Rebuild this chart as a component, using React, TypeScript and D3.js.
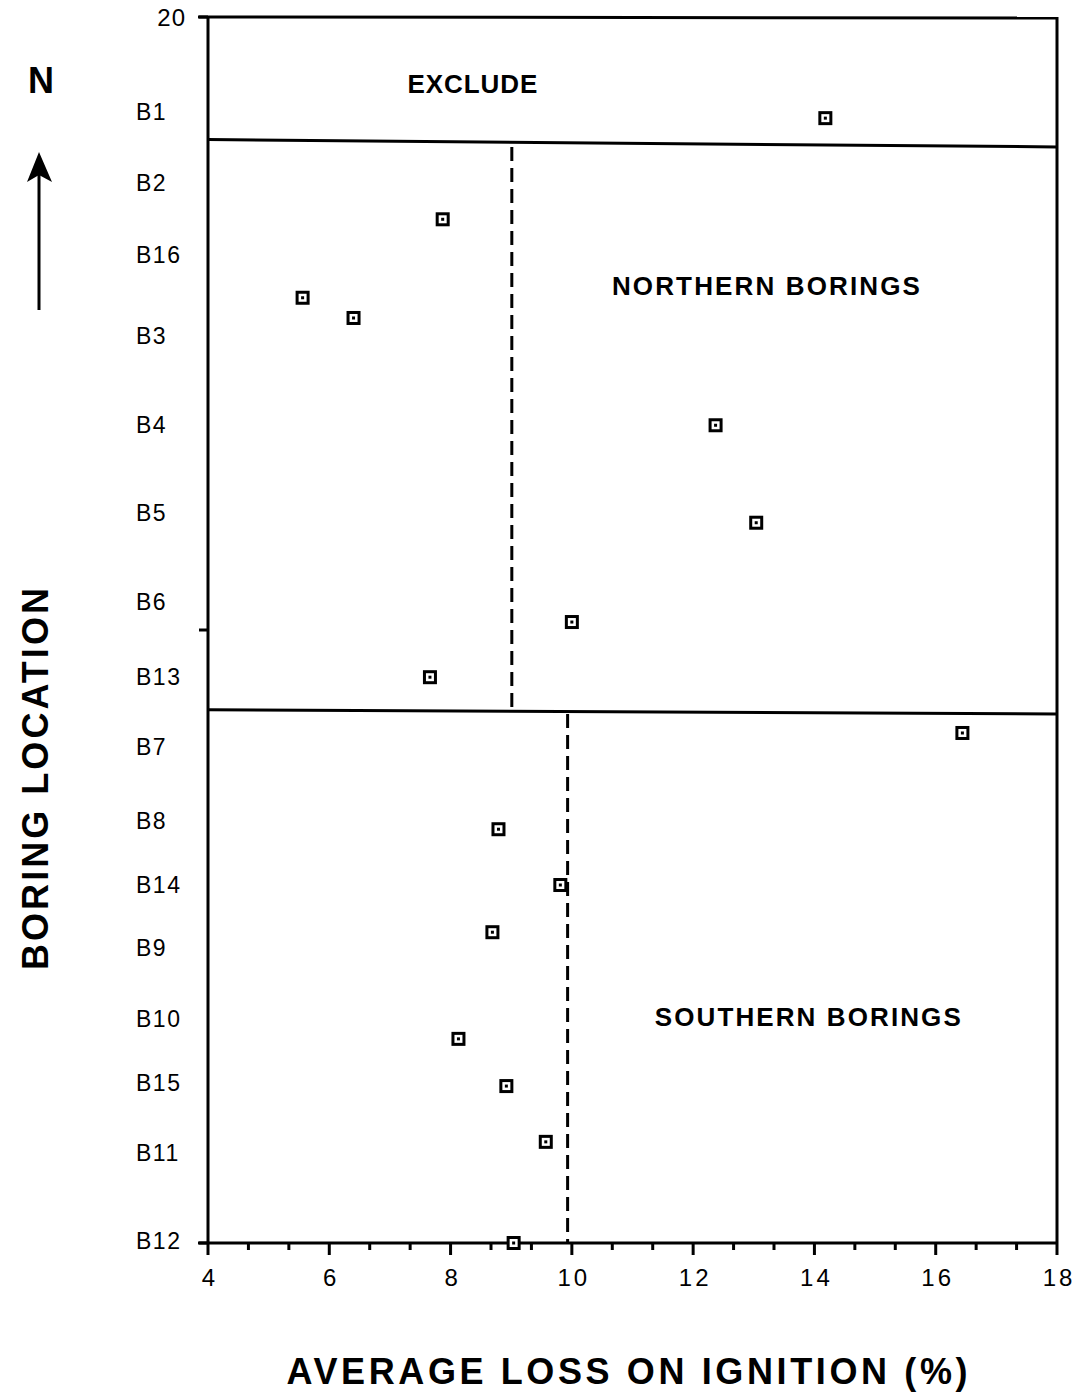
import React from "react";
import * as d3 from "d3";

const borings = ["B1","B2","B16","B3","B4","B5","B6","B13","B7","B8","B14","B9","B10","B15","B11","B12"];
const boringLabelPos = [18.45,17.29,16.12,14.80,13.34,11.91,10.46,9.23,8.09,6.88,5.84,4.81,3.65,2.61,1.47,0.03];

const pointLoss = [14.18,7.87,5.56,6.40,12.37,13.04,10.0,7.66,16.44,8.79,9.81,8.69,8.13,8.92,9.57,9.04];
const pointPos = [18.35,16.70,15.42,15.09,13.34,11.75,10.13,9.23,8.32,6.75,5.84,5.07,3.33,2.56,1.65,0.0];

const xTicks = [4,6,8,10,12,14,16,18];
const yTicks = [0,10,20];

// separator lines (left value, right value) in y units
const separators = [[18.0,17.88],[8.70,8.63]];
// group mean dashed lines: x value, y from, y to
const groupMeans = [
  { x: 9.01, y0: 17.88, y1: 8.70 },
  { x: 9.93, y0: 8.63, y1: 0 },
];
const regionLabels = [
  { text: "EXCLUDE", x: 8.36, y: 18.76, len: 130 },
  { text: "NORTHERN BORINGS", x: 13.2, y: 15.47, len: 308 },
  { text: "SOUTHERN BORINGS", x: 13.89, y: 3.54, len: 306 },
];

const W = 1078, H = 1393;
const L = 208, R = 1057, T = 17, B = 1243;
const FONT = "'Liberation Sans', Arial, Helvetica, sans-serif";

export default function App() {
  const x = d3.scaleLinear().domain([4, 18]).range([L, R]);
  const y = d3.scaleLinear().domain([0, 20]).range([B, T]);
  const minor = d3.range(4, 18.001, 2 / 3).filter(v => Math.abs(v - Math.round(v / 2) * 2) > 0.01);

  return (
    <svg width={W} height={H} style={{ position: "absolute", left: 0, top: 0, background: "#fff" }} fontFamily={FONT}>
      <rect width={W} height={H} fill="#fff" />
      {/* frame */}
      <line x1={L - 10} x2={R} y1={T} y2={T + 1} stroke="#000" strokeWidth={3} />
      <line x1={L} x2={L} y1={T} y2={B} stroke="#000" strokeWidth={3} />
      <line x1={R} x2={R} y1={T} y2={B} stroke="#000" strokeWidth={3} />
      <line x1={L - 10} x2={R} y1={B} y2={B} stroke="#000" strokeWidth={3} />
      {/* y ticks */}
      {yTicks.map(v => (
        <line key={"yt" + v} x1={L - 9} x2={L} y1={y(v)} y2={y(v)} stroke="#000" strokeWidth={3} />
      ))}
      <text x={186} y={y(20) + 9} fontSize={24} textAnchor="end" letterSpacing={1}>20</text>
      {/* x ticks */}
      {xTicks.map(v => (
        <g key={"xt" + v}>
          <line x1={x(v)} x2={x(v)} y1={B} y2={B + 12} stroke="#000" strokeWidth={3} />
          <text x={x(v) + 2} y={B + 43} fontSize={24} textAnchor="middle" letterSpacing={3}>{v}</text>
        </g>
      ))}
      {minor.map((v, i) => (
        <line key={"mt" + i} x1={x(v)} x2={x(v)} y1={B} y2={B + 7} stroke="#000" strokeWidth={3} />
      ))}
      {/* boring labels */}
      {borings.map((b, i) => (
        <text key={b} x={136} y={y(boringLabelPos[i]) + 8} fontSize={23} letterSpacing={1.5}>{b}</text>
      ))}
      {/* separators */}
      {separators.map((s, i) => (
        <line key={"sep" + i} x1={L} x2={R} y1={y(s[0])} y2={y(s[1])} stroke="#000" strokeWidth={3} />
      ))}
      {/* dashed mean lines */}
      {groupMeans.map((g, i) => (
        <line key={"gm" + i} x1={x(g.x)} x2={x(g.x)} y1={y(g.y0)} y2={y(g.y1)} stroke="#000" strokeWidth={3} strokeDasharray="14 7" />
      ))}
      {/* region labels */}
      {regionLabels.map(r => (
        <text key={r.text} x={x(r.x)} y={y(r.y)} fontSize={26} fontWeight="bold" textAnchor="middle" textLength={r.len} lengthAdjust="spacing">{r.text}</text>
      ))}
      {/* points */}
      {pointLoss.map((v, i) => (
        <g key={"p" + i}>
          <rect x={x(v) - 5.5} y={y(pointPos[i]) - 5.5} width={11} height={11} fill="#fff" stroke="#000" strokeWidth={3} />
          <rect x={x(v) - 1.5} y={y(pointPos[i]) - 1.5} width={3} height={3} fill="#000" />
        </g>
      ))}
      {/* north arrow */}
      <text x={41} y={93} fontSize={36} fontWeight="bold" textAnchor="middle">N</text>
      <line x1={39} x2={39} y1={310} y2={168} stroke="#000" strokeWidth={3} />
      <path d="M39,152 L52,182 L39,175 L27,182 Z" fill="#000" />
      {/* axis titles */}
      <text x={627} y={1384} fontSize={36} fontWeight="bold" textAnchor="middle" textLength={681} lengthAdjust="spacing">AVERAGE LOSS ON IGNITION (%)</text>
      <text transform="translate(48,779) rotate(-90)" fontSize={36} fontWeight="bold" textAnchor="middle" textLength={382} lengthAdjust="spacing">BORING LOCATION</text>
    </svg>
  );
}
